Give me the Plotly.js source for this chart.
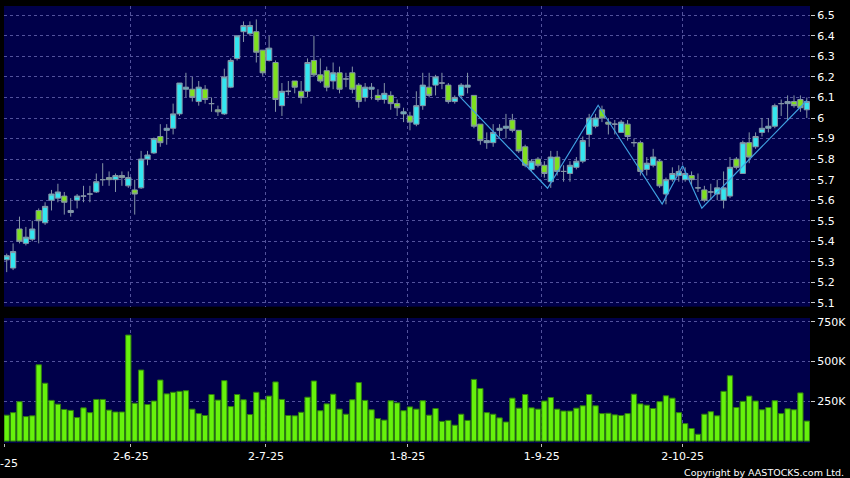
<!DOCTYPE html>
<html>
<head>
<meta charset="utf-8">
<script src="https://cdn.plot.ly/plotly-3.0.1.min.js"></script>
<style>
html,body{margin:0;padding:0;background:#000;}
#chart{width:850px;height:478px;}
</style>
</head>
<body>
<div id="chart"></div>
<script>
// ---- data ----
var openP  = [5.31,5.27,5.46,5.39,5.41,5.55,5.49,5.60,5.61,5.62,5.54,5.60,5.62,5.63,5.64,5.70,5.71,5.70,5.72,5.67,
              5.65,5.66,5.80,5.83,5.91,5.94,5.95,6.02,6.14,6.14,6.08,6.14,6.07,6.04,6.02,6.15,6.29,6.42,6.41,6.42,
              6.33,6.28,6.27,6.06,6.13,6.18,6.13,6.13,6.28,6.21,6.23,6.18,6.22,6.19,6.22,6.16,6.10,6.14,6.11,6.09,
              6.11,6.07,6.02,6.01,5.97,6.06,6.15,6.16,6.17,6.16,6.08,6.11,6.15,6.11,5.97,5.88,5.88,5.94,5.95,5.99,
              5.94,5.86,5.75,5.80,5.77,5.69,5.81,5.74,5.73,5.76,5.79,5.92,5.96,6.04,5.98,5.97,5.93,5.97,5.88,5.88,
              5.75,5.77,5.79,5.63,5.70,5.72,5.70,5.72,5.66,5.65,5.64,5.63,5.60,5.62,5.80,5.73,5.88,5.86,5.93,5.95,
              5.96,6.07,6.07,6.08,6.09,6.04];
var highP  = [5.34,5.39,5.52,5.47,5.50,5.56,5.59,5.65,5.68,5.64,5.61,5.63,5.67,5.67,5.73,5.78,5.74,5.73,5.74,5.74,
              5.70,5.84,5.84,5.905,5.97,5.97,6.07,6.17,6.22,6.20,6.18,6.16,6.10,6.06,6.24,6.29,6.40,6.47,6.47,6.48,
              6.33,6.40,6.28,6.17,6.18,6.18,6.18,6.29,6.40,6.29,6.25,6.27,6.25,6.22,6.25,6.17,6.17,6.17,6.14,6.17,
              6.13,6.09,6.05,6.03,6.13,6.22,6.22,6.21,6.22,6.17,6.11,6.17,6.22,6.11,5.97,5.93,5.97,5.97,6.02,6.02,
              5.94,5.87,5.80,5.81,5.79,5.84,5.84,5.77,5.79,5.81,5.91,6.02,6.02,6.06,6.00,5.99,5.99,5.99,5.90,5.89,
              5.81,5.85,5.80,5.71,5.76,5.77,5.76,5.74,5.73,5.67,5.68,5.70,5.74,5.81,5.81,5.89,5.93,5.93,6.00,6.00,
              6.07,6.09,6.11,6.11,6.11,6.10];
var lowP   = [5.25,5.26,5.39,5.38,5.40,5.39,5.48,5.55,5.59,5.53,5.52,5.56,5.59,5.59,5.635,5.67,5.67,5.64,5.67,5.66,
              5.53,5.655,5.77,5.825,5.86,5.87,5.92,6.01,6.10,6.08,6.06,6.07,6.03,6.01,6.015,6.145,6.28,6.37,6.40,6.27,
              6.205,6.275,6.03,6.01,6.11,6.12,6.07,6.10,6.20,6.17,6.13,6.14,6.12,6.15,6.12,6.05,6.08,6.09,6.08,6.07,
              6.04,6.01,5.98,5.94,5.96,6.04,6.10,6.11,6.14,6.07,6.07,6.10,6.12,5.95,5.87,5.85,5.86,5.91,5.90,5.93,
              5.83,5.76,5.74,5.76,5.71,5.66,5.72,5.69,5.69,5.75,5.78,5.86,5.95,5.98,5.92,5.92,5.93,5.89,5.86,5.72,
              5.72,5.76,5.66,5.58,5.69,5.69,5.69,5.67,5.64,5.59,5.60,5.60,5.56,5.61,5.75,5.73,5.78,5.85,5.91,5.93,
              5.95,6.01,5.99,6.05,6.03,6.00];
var closeP = [5.33,5.35,5.40,5.42,5.46,5.50,5.57,5.63,5.64,5.59,5.55,5.62,5.62,5.63,5.69,5.70,5.70,5.72,5.71,5.71,
              5.63,5.80,5.82,5.90,5.88,5.95,6.02,6.17,6.15,6.10,6.15,6.09,6.07,6.03,6.20,6.28,6.40,6.45,6.45,6.32,
              6.22,6.34,6.09,6.13,6.13,6.15,6.10,6.27,6.21,6.18,6.15,6.22,6.14,6.19,6.14,6.08,6.15,6.15,6.09,6.12,
              6.07,6.05,6.03,5.98,6.06,6.16,6.11,6.20,6.17,6.08,6.10,6.16,6.16,5.96,5.89,5.89,5.93,5.95,5.96,5.94,
              5.84,5.77,5.79,5.77,5.73,5.81,5.74,5.74,5.77,5.79,5.89,6.00,6.00,6.00,5.97,5.97,5.98,5.91,5.88,5.74,
              5.78,5.81,5.67,5.70,5.73,5.74,5.73,5.70,5.66,5.60,5.64,5.66,5.66,5.76,5.76,5.88,5.81,5.91,5.95,5.96,
              6.06,6.07,6.08,6.06,6.05,6.08];
var volumeK = [163,179,248,154,159,480,364,256,232,199,193,148,209,179,262,262,195,183,183,667,
               238,447,230,252,384,297,307,313,317,201,173,161,293,258,380,217,293,260,167,307,
               260,283,372,262,161,159,181,276,378,191,234,295,201,169,260,368,256,197,142,132,
               254,240,191,215,201,254,163,205,124,130,100,169,130,388,331,179,169,146,120,270,
               207,293,209,201,252,274,201,189,189,207,222,293,222,173,175,165,161,173,295,234,
               226,205,248,285,270,179,110,79,43,169,185,159,313,411,211,250,283,252,197,211,
               254,173,203,197,303,126];
// zig-zag trend line vertices (session position, price)
var zigPos   = [70.6, 84.5, 92.4, 102.4, 105.6, 108.6, 125];
var zigPrice = [6.11, 5.658, 6.062, 5.581, 5.768, 5.561, 6.085];
// date ticks (session position, label)
var dateTickPos    = [-0.37, 19.4, 40.5, 62.6, 83.6, 105.6];
var dateTickLabels = ['', '2-6-25', '2-7-25', '1-8-25', '1-9-25', '2-10-25'];
var cutDateLabel = '2-5-25';
var priceTicks = [5.1,5.2,5.3,5.4,5.5,5.6,5.7,5.8,5.9,6.0,6.1,6.2,6.3,6.4,6.5];
var priceTickText = ['5.1','5.2','5.3','5.4','5.5','5.6','5.7','5.8','5.9','6','6.1','6.2','6.3','6.4','6.5'];
var volTicks = [250000, 500000, 750000];
var volTickText = ['250K', '500K', '750K'];
var copyrightText = 'Copyright by AASTOCKS.com Ltd.';

// ---- build ----
var sessions = closeP.map(function(_, i){ return i; });
var volumes = volumeK.map(function(v){ return v * 1000; });

var GRID = '#52529c';
var FONT = 'DejaVu Sans';
var DASH = '3px,3px';

var candles = {
  type: 'candlestick', x: sessions, open: openP, high: highP, low: lowP, close: closeP,
  xaxis: 'x', yaxis: 'y',
  increasing: {line: {color: '#8595a6', width: 1}, fillcolor: '#33e6f0'},
  decreasing: {line: {color: '#8595a6', width: 1}, fillcolor: '#7fe01f'},
  whiskerwidth: 0, hoverinfo: 'skip'
};
var zig = {
  type: 'scatter', mode: 'lines', x: zigPos, y: zigPrice, xaxis: 'x', yaxis: 'y',
  line: {color: '#3f9fe0', width: 1.2}, hoverinfo: 'skip'
};
var vol = {
  type: 'bar', x: sessions, y: volumes, xaxis: 'x2', yaxis: 'y2',
  marker: {color: '#66f20c', line: {color: '#2f7d10', width: 1}}, hoverinfo: 'skip'
};

var xRange = [-0.42, 125.5];
var layout = {
  width: 850, height: 478,
  paper_bgcolor: '#000000', plot_bgcolor: '#00004a',
  margin: {l: 4, r: 40, t: 6, b: 35},
  showlegend: false, hovermode: false,
  boxgap: 0.18, boxgroupgap: 0, bargap: 0.17,
  font: {family: FONT, color: '#ffffff', size: 11},
  xaxis: {
    domain: [0, 1], anchor: 'y', range: xRange, type: 'linear',
    tickmode: 'array', tickvals: dateTickPos, ticktext: dateTickLabels,
    showticklabels: false, ticks: '', showgrid: true, gridcolor: GRID, griddash: DASH, gridwidth: 1,
    zeroline: false, showline: false, rangeslider: {visible: false}, fixedrange: true
  },
  xaxis2: {
    domain: [0, 1], anchor: 'y2', range: xRange, type: 'linear',
    tickmode: 'array', tickvals: dateTickPos, ticktext: dateTickLabels,
    showticklabels: true, ticks: 'outside', ticklen: 3, tickcolor: '#bbbbbb', tickwidth: 1,
    tickfont: {family: FONT, size: 11, color: '#ffffff'},
    showgrid: true, gridcolor: GRID, griddash: DASH, gridwidth: 1,
    zeroline: false, showline: false, fixedrange: true
  },
  yaxis: {
    domain: [0.312, 1], anchor: 'x', side: 'right', range: [5.082, 6.545],
    tickmode: 'array', tickvals: priceTicks, ticktext: priceTickText,
    ticks: 'outside', ticklen: 4, tickcolor: '#cccccc', tickwidth: 1,
    tickfont: {family: FONT, size: 11, color: '#ffffff'},
    showgrid: true, gridcolor: GRID, griddash: DASH, gridwidth: 1,
    zeroline: false, showline: false, fixedrange: true
  },
  yaxis2: {
    domain: [0, 0.286], anchor: 'x2', side: 'right', range: [-12000, 774000],
    tickmode: 'array', tickvals: volTicks, ticktext: volTickText,
    ticks: 'outside', ticklen: 4, tickcolor: '#cccccc', tickwidth: 1,
    tickfont: {family: FONT, size: 11, color: '#ffffff'},
    showgrid: true, gridcolor: GRID, griddash: DASH, gridwidth: 1,
    zeroline: false, showline: false, fixedrange: true
  },
  annotations: [
    {text: cutDateLabel, xref: 'paper', yref: 'paper', x: -0.005, y: -0.027,
     xanchor: 'center', yanchor: 'top', showarrow: false,
     font: {family: FONT, size: 11, color: '#ffffff'}},
    {text: copyrightText, xref: 'paper', yref: 'paper', x: 1.0445, y: -0.068,
     xanchor: 'right', yanchor: 'middle', showarrow: false,
     font: {family: FONT, size: 9.5, color: '#ffffff'}}
  ]
};

Plotly.newPlot('chart', [candles, zig, vol], layout, {staticPlot: true, displayModeBar: false});
</script>
</body>
</html>
